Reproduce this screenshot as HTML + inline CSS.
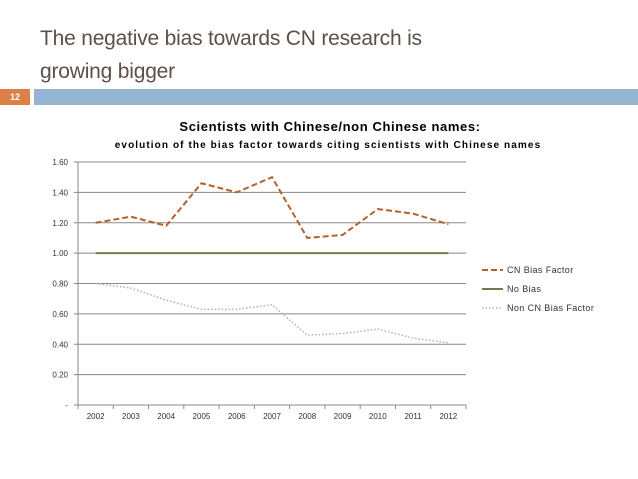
<!DOCTYPE html>
<html><head><meta charset="utf-8"><style>
body{margin:0;width:638px;height:479px;background:#fff;overflow:hidden;font-family:"Liberation Sans",sans-serif;position:relative}
.t{position:absolute;left:40px;color:#5e5048;font-size:21px;letter-spacing:-0.2px;white-space:nowrap}
</style></head><body>
<div class="t" style="top:22px;line-height:33px">The negative bias towards CN research is<br>growing bigger</div>
<div style="position:absolute;left:0;top:89px;width:30px;height:16px;background:#dd8047;color:#fff;font-size:9px;font-weight:bold;line-height:16px;text-align:center">12</div>
<div style="position:absolute;left:34px;top:89px;width:604px;height:16px;background:#94b6d2"></div>
<svg id="c" width="638" height="479" style="position:absolute;left:0;top:0"></svg>
<script>
const years=["2002","2003","2004","2005","2006","2007","2008","2009","2010","2011","2012"];
const cnBias=[1.20,1.24,1.18,1.46,1.40,1.50,1.10,1.12,1.29,1.26,1.19];
const noBias=[1,1,1,1,1,1,1,1,1,1,1];
const nonCnBias=[0.80,0.77,0.69,0.63,0.63,0.66,0.46,0.47,0.50,0.44,0.41];
const yTicks=[0,0.2,0.4,0.6,0.8,1.0,1.2,1.4,1.6];
const yTickLabels=["-","0.20","0.40","0.60","0.80","1.00","1.20","1.40","1.60"];
const svg=document.getElementById('c');const NS="http://www.w3.org/2000/svg";
const L=78,R=466,T=162,B=405;
const x=i=>L+(i+0.5)*(R-L)/years.length;
const y=v=>B-(v/1.6)*(B-T);
function mk(tag,a,p){const e=document.createElementNS(NS,tag);for(const k in a)e.setAttribute(k,a[k]);(p||svg).appendChild(e);return e;}
let t=mk('text',{x:330,y:131,'text-anchor':'middle','font-size':'13','font-weight':'bold',fill:'#000','letter-spacing':'0.6'});t.textContent="Scientists with Chinese/non Chinese names:";


t=mk('text',{x:328,y:148,'text-anchor':'middle','font-size':'10','font-weight':'bold',fill:'#000','letter-spacing':'1.1'});t.textContent="evolution of the bias factor towards citing scientists with Chinese names";


yTicks.forEach((v,i)=>{
 const g=mk('line',{x1:L-4,x2:R,y1:y(v),y2:y(v),stroke:'#888','stroke-width':1});
 
 
 const l=mk('text',{x:L-10,y:y(v)+3,'text-anchor':'end','font-size':'8',fill:'#333'});l.textContent=yTickLabels[i];
 
 
});
mk('line',{x1:L,x2:L,y1:T,y2:B,stroke:'#888'});
years.forEach((yr,i)=>{
 mk('line',{x1:L+i*(R-L)/years.length,x2:L+i*(R-L)/years.length,y1:B,y2:B+4,stroke:'#888'});
 const l=mk('text',{x:x(i),y:B+14,'text-anchor':'middle','font-size':'8',fill:'#333'});l.textContent=yr;
 
 
});
mk('line',{x1:R,x2:R,y1:B,y2:B+4,stroke:'#888'});
function series(d,st,name){const p=mk('polyline',Object.assign({points:d.map((v,i)=>x(i)+','+y(v)).join(' '),fill:'none'},st));
 
 }
const sCN={stroke:'#b5622f','stroke-width':2,'stroke-dasharray':'6,3'};
const sNo={stroke:'#6e7d4a','stroke-width':2};
const sNon={stroke:'#9ab8cf','stroke-width':1.5,'stroke-dasharray':'1.5,2'};
series(noBias,sNo,'no-bias-line');
series(nonCnBias,sNon,'non-cn-bias-line');
series(cnBias,sCN,'cn-bias-line');
[["CN Bias Factor",sCN,270],["No Bias",sNo,289],["Non CN Bias Factor",sNon,308]].forEach(([n,s,yy])=>{
 const ln=mk('line',Object.assign({x1:482,x2:503,y1:yy,y2:yy},s));
 
 
 const tx=mk('text',{x:507,y:yy+3,'font-size':'9',fill:'#333','letter-spacing':'0.4'});tx.textContent=n;
 
 
});
</script>
</body></html>
